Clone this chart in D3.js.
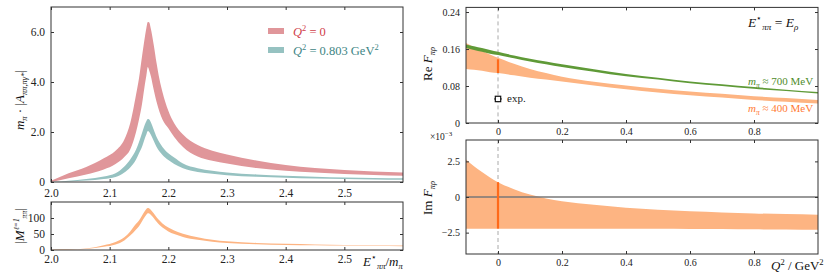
<!DOCTYPE html>
<html><head><meta charset="utf-8">
<script src="https://cdn.jsdelivr.net/npm/d3@7"></script>
<style>
body{margin:0;background:#fff;}
text{font-family:"Liberation Serif","DejaVu Serif",serif;}
</style></head>
<body><svg id="c" width="831" height="277"></svg>
<script>
// ---------- data: left panels ----------
const E = [2.00,2.03,2.06,2.09,2.11,2.125,2.135,2.145,2.15,2.155,2.16,2.1625,2.165,2.1675,2.17,2.175,2.18,2.185,2.19,2.20,2.21,2.225,2.25,2.275,2.30,2.35,2.40,2.45,2.50,2.55,2.60];
const redHi  = [0.05,0.35,0.6,0.95,1.25,1.7,2.35,3.5,4.15,5.0,5.8,6.15,6.4,6.38,6.15,5.5,4.75,4.1,3.6,2.85,2.35,1.9,1.48,1.25,1.1,0.86,0.68,0.56,0.48,0.42,0.38];
const redLo  = [0.0,0.15,0.3,0.5,0.72,1.0,1.3,2.0,2.5,3.1,3.9,4.25,4.6,4.45,4.25,3.7,3.2,2.8,2.5,2.15,1.8,1.4,1.02,0.85,0.74,0.56,0.45,0.38,0.32,0.28,0.25];
const tealHi = [0.0,0.05,0.12,0.22,0.35,0.62,0.9,1.3,1.6,1.95,2.3,2.43,2.52,2.5,2.4,2.1,1.8,1.58,1.4,1.15,0.98,0.74,0.55,0.45,0.38,0.3,0.25,0.21,0.18,0.16,0.15];
const tealLo = [0.0,0.02,0.06,0.12,0.2,0.38,0.58,0.9,1.15,1.4,1.75,1.9,2.04,2.0,1.9,1.65,1.4,1.22,1.08,0.88,0.72,0.55,0.4,0.33,0.27,0.21,0.17,0.14,0.12,0.1,0.09];
const mHi = [0.5,2,5,15,25,40,58,82,92,107,122,128,131,130,126,115,102,92,83,70,61,51,40,32,27,22,19.5,17.5,16,15,14];
const mLo = [0,1,3,10,17,30,45,64,74,89,104,110,115,114,110,100,88,78,70,58,50,41,32,26,22,18,16,15,14,13,12];
const ltYTicks = [0,2,4,6], lbYTicks = [0,50,100], lXTicks = [2.0,2.1,2.2,2.3,2.4,2.5];
// ---------- data: right panels ----------
const Q = [-0.1,-0.075,-0.05,-0.025,0,0.05,0.1,0.15,0.2,0.3,0.4,0.5,0.6,0.7,0.8,0.9,1.0];
const re400Hi = [0.173,0.164,0.156,0.148,0.141,0.128,0.117,0.108,0.100,0.089,0.081,0.074,0.068,0.063,0.058,0.054,0.050];
const re400Lo = [0.117,0.115,0.113,0.110,0.108,0.103,0.098,0.094,0.090,0.081,0.073,0.066,0.060,0.055,0.050,0.046,0.042];
const re700Hi = [0.170,0.166,0.162,0.158,0.154,0.146,0.139,0.133,0.127,0.116,0.106,0.098,0.090,0.084,0.078,0.072,0.067];
const re700Lo = [0.162,0.158,0.154,0.150,0.147,0.140,0.133,0.127,0.121,0.111,0.101,0.094,0.086,0.080,0.074,0.069,0.064];
const im400Hi = [2.64,2.15,1.75,1.37,1.04,0.55,0.17,-0.1,-0.3,-0.55,-0.76,-0.9,-1.0,-1.08,-1.15,-1.2,-1.25];
const im400Lo = [-2.22,-2.22,-2.22,-2.22,-2.22,-2.22,-2.22,-2.22,-2.22,-2.22,-2.22,-2.23,-2.24,-2.25,-2.27,-2.28,-2.3];
const latticeRe = [0.108,0.138], latticeIm = [-2.22,1.04];
const expRe = 0.052, expErrQ = 0.012;
const rtYTicks = [0,0.08,0.16,0.24], rbYTicks = [-2.5,0,2.5], rXTicks = [0,0.2,0.4,0.6,0.8];

const C = {red:"#e0969a", teal:"#96c2c1", orange:"#fdb482", dark:"#ff6a1a", green:"#5f9a37",
  redT:"#d0404a", tealT:"#3e8584", greenT:"#4f8c2c", orangeT:"#ff7a33", frame:"#333"};

const svg = d3.select("#c");
const xL = d3.scaleLinear([2.0,2.6],[51,403]);
const yLT = d3.scaleLinear([0,7],[182,7]);
const yLB = d3.scaleLinear([0,150],[250,202]);
const xR = d3.scaleLinear([-0.1,1.0],[466,818]);
const yRT = d3.scaleLinear([0,0.25],[123,7.4]);
const yRB = d3.scaleLinear([-4,4],[254,140]);

const defs = svg.append("defs");
function clip(id,x,y){
  defs.append("clipPath").attr("id",id).append("rect")
    .attr("x",x.range()[0]).attr("y",y.range()[1])
    .attr("width",x.range()[1]-x.range()[0]).attr("height",y.range()[0]-y.range()[1]);
}
clip("cLT",xL,yLT); clip("cLB",xL,yLB); clip("cRT",xR,yRT); clip("cRB",xR,yRB);

function band(g,xs,hi,lo,x,y,color){
  const d = xs.map((v,i)=>({x:v,h:hi[i],l:lo[i]}));
  g.append("path").datum(d).attr("fill",color).attr("stroke","none")
   .attr("d",d3.area().x(p=>x(p.x)).y0(p=>y(p.l)).y1(p=>y(p.h)).curve(d3.curveMonotoneX));
}

function frame(x,y,xt,yt,xfmt,yfmt,fs,xpad){
  const g = svg.append("g");
  const x0=x.range()[0], x1=x.range()[1], yT=y.range()[1], yB=y.range()[0];
  g.append("g").attr("transform",`translate(0,${yB})`)
    .call(d3.axisBottom(x).tickValues(xt).tickSize(-3).tickPadding(xpad).tickFormat(xfmt));
  g.append("g").attr("transform",`translate(0,${yT})`)
    .call(d3.axisTop(x).tickValues(xt).tickSize(-3).tickFormat(""));
  g.append("g").attr("transform",`translate(${x0},0)`)
    .call(d3.axisLeft(y).tickValues(yt).tickSize(-3).tickPadding(6).tickFormat(yfmt));
  g.append("g").attr("transform",`translate(${x1},0)`)
    .call(d3.axisRight(y).tickValues(yt).tickSize(-3).tickFormat(""));
  g.selectAll(".domain").remove();
  g.selectAll("g").attr("font-family",null);
  g.selectAll(".tick line").attr("stroke",C.frame);
  g.selectAll(".tick text").style("font-family","'Liberation Serif', serif").attr("font-size",fs).attr("fill","#222");
  g.append("rect").attr("x",x0).attr("y",yT).attr("width",x1-x0).attr("height",yB-yT)
    .attr("fill","none").attr("stroke",C.frame).attr("stroke-width",1);
  return g;
}

// ---- left top ----
const gLT = svg.append("g").attr("clip-path","url(#cLT)");
band(gLT,E,redHi,redLo,xL,yLT,C.red);
band(gLT,E,tealHi,tealLo,xL,yLT,C.teal);
frame(xL,yLT,lXTicks,ltYTicks,d3.format(".1f"),v=>v===0?"0":d3.format(".1f")(v),11.5,7);
// legend
[[C.red,34],[C.teal,53]].forEach(c=>{
  svg.append("rect").attr("x",268).attr("y",c[1]-6).attr("width",16).attr("height",6).attr("fill",c[0]);
});
function qlabel(x,y,color,rest){
  const t = svg.append("text").attr("x",x).attr("y",y).attr("font-size",12.5).attr("fill",color);
  t.append("tspan").attr("font-style","italic").text("Q");
  t.append("tspan").attr("font-size",8.5).attr("dy",-5).text("2");
  t.append("tspan").attr("dy",5).text(rest);
  return t;
}
qlabel(293,35.5,C.redT," = 0");
const t2 = qlabel(293,54.5,C.tealT," = 0.803 GeV");
t2.append("tspan").attr("font-size",8.5).attr("dy",-5).text("2");

// ---- left bottom ----
const gLB = svg.append("g").attr("clip-path","url(#cLB)");
band(gLB,E,mHi,mLo,xL,yLB,C.orange);
frame(xL,yLB,lXTicks,lbYTicks,d3.format(".1f"),d3.format("d"),11.5,5);

// ---- right top ----
const gRT = svg.append("g").attr("clip-path","url(#cRT)");
gRT.append("line").attr("x1",xR(0)).attr("x2",xR(0)).attr("y1",yRT.range()[1]).attr("y2",yRT.range()[0])
   .attr("stroke","#aaa").attr("stroke-width",1).attr("stroke-dasharray","4,3");
band(gRT,Q,re400Hi,re400Lo,xR,yRT,C.orange);
band(gRT,Q,re700Hi,re700Lo,xR,yRT,C.green);
gRT.append("line").attr("x1",xR(0)).attr("x2",xR(0)).attr("y1",yRT(latticeRe[0])).attr("y2",yRT(latticeRe[1]))
  .attr("stroke",C.dark).attr("stroke-width",2.2);
// ---- right bottom ----
const gRB = svg.append("g").attr("clip-path","url(#cRB)");
gRB.append("line").attr("x1",xR(0)).attr("x2",xR(0)).attr("y1",yRB.range()[1]).attr("y2",yRB.range()[0])
   .attr("stroke","#aaa").attr("stroke-width",1).attr("stroke-dasharray","4,3");
band(gRB,Q,im400Hi,im400Lo,xR,yRB,C.orange);
gRB.append("line").attr("x1",xR.range()[0]).attr("x2",xR.range()[1]).attr("y1",yRB(0)).attr("y2",yRB(0))
  .attr("stroke","#777").attr("stroke-width",1.3);
gRB.append("line").attr("x1",xR(0)).attr("x2",xR(0)).attr("y1",yRB(latticeIm[0])).attr("y2",yRB(latticeIm[1]))
  .attr("stroke",C.dark).attr("stroke-width",2.2);
// exp point
svg.append("line").attr("x1",xR(-expErrQ)).attr("x2",xR(expErrQ)).attr("y1",yRT(expRe)).attr("y2",yRT(expRe))
  .attr("stroke","#111").attr("stroke-width",1);
svg.append("rect").attr("x",xR(0)-2.7).attr("y",yRT(expRe)-2.7).attr("width",5.4).attr("height",5.4)
  .attr("fill","#fff").attr("stroke","#111").attr("stroke-width",1.2);
svg.append("text").attr("x",xR(0)+9).attr("y",yRT(expRe)+3.5).attr("font-size",11).attr("fill","#222").text("exp.");

frame(xR,yRT,rXTicks,rtYTicks,v=>v===0?"0":d3.format(".1f")(v),v=>v===0?"0":d3.format(".2f")(v),10,5);
frame(xR,yRB,rXTicks,rbYTicks,v=>v===0?"0":d3.format(".1f")(v),v=>v===0?"0":d3.format(".1f")(v).replace("-","−"),10,5);

// ---- annotations ----
function mlabel(x,y,color,val){
  const t = svg.append("text").attr("x",x).attr("y",y).attr("font-size",11).attr("fill",color);
  t.append("tspan").attr("font-style","italic").text("m");
  t.append("tspan").attr("font-style","italic").attr("font-size",7.5).attr("dy",2.5).text("π");
  t.append("tspan").attr("dy",-2.5).text(" ≈ "+val+" MeV");
}
mlabel(748,85,C.greenT,"700");
mlabel(748,112,C.orangeT,"400");
{
  const t = svg.append("text").attr("x",748).attr("y",27).attr("font-size",13.5).attr("fill","#111");
  t.append("tspan").attr("font-style","italic").text("E");
  t.append("tspan").attr("font-size",9).attr("dy",-6).text("⋆");
  t.append("tspan").attr("font-size",9).attr("font-style","italic").attr("dy",9).text("ππ");
  t.append("tspan").attr("dy",-3).text(" = ");
  t.append("tspan").attr("font-style","italic").text("E");
  t.append("tspan").attr("font-size",9).attr("font-style","italic").attr("dy",3).text("ρ");
}
// x axis labels
{
  const t = svg.append("text").attr("x",363).attr("y",266).attr("font-size",13).attr("fill","#111");
  t.append("tspan").attr("font-style","italic").text("E");
  t.append("tspan").attr("font-size",8.5).attr("dy",-6).text("⋆");
  t.append("tspan").attr("font-size",8.5).attr("font-style","italic").attr("dy",9).text("ππ");
  t.append("tspan").attr("dy",-3).text("/");
  t.append("tspan").attr("font-style","italic").text("m");
  t.append("tspan").attr("font-size",8.5).attr("font-style","italic").attr("dy",3).text("π");
}
{
  const t = svg.append("text").attr("x",771).attr("y",270).attr("font-size",13).attr("fill","#111");
  t.append("tspan").attr("font-style","italic").text("Q");
  t.append("tspan").attr("font-size",8.5).attr("dy",-5).text("2");
  t.append("tspan").attr("dy",5).text(" / GeV");
  t.append("tspan").attr("font-size",8.5).attr("dy",-5).text("2");
}
// y axis labels
function ylab(cx,cy,build){
  const t = svg.append("text").attr("transform",`translate(${cx},${cy}) rotate(-90)`)
    .attr("text-anchor","middle").attr("font-size",13).attr("fill","#111");
  build(t);
}
ylab(24,100,t=>{
  t.append("tspan").attr("font-style","italic").text("m");
  t.append("tspan").attr("font-size",8.5).attr("font-style","italic").attr("dy",3).text("π");
  t.append("tspan").attr("dy",-3).text(" · |");
  t.append("tspan").attr("font-style","italic").text("A");
  t.append("tspan").attr("font-size",8.5).attr("font-style","italic").attr("dy",3).text("ππ,πγ*");
  t.append("tspan").attr("dy",-3).text("|");
});
ylab(24,226,t=>{
  t.append("tspan").text("|");
  t.append("tspan").attr("font-style","italic").text("M");
  t.append("tspan").attr("font-size",7.5).attr("font-style","italic").attr("dy",-5).text("ℓ=1");
  t.append("tspan").attr("font-size",7.5).attr("font-style","italic").attr("dy",8).text("ππ");
  t.append("tspan").attr("dy",-3).text("|");
});
ylab(432,64,t=>{
  t.append("tspan").text("Re ");
  t.append("tspan").attr("font-style","italic").text("F");
  t.append("tspan").attr("font-size",8.5).attr("font-style","italic").attr("dy",3).text("πρ");
});
ylab(432,198,t=>{
  t.append("tspan").text("Im ");
  t.append("tspan").attr("font-style","italic").text("F");
  t.append("tspan").attr("font-size",8.5).attr("font-style","italic").attr("dy",3).text("πρ");
});
{
  const t = svg.append("text").attr("x",430).attr("y",140).attr("font-size",9.5).attr("fill","#222");
  t.append("tspan").text("×10");
  t.append("tspan").attr("font-size",7).attr("dy",-4).text("−3");
}
</script></body></html>
